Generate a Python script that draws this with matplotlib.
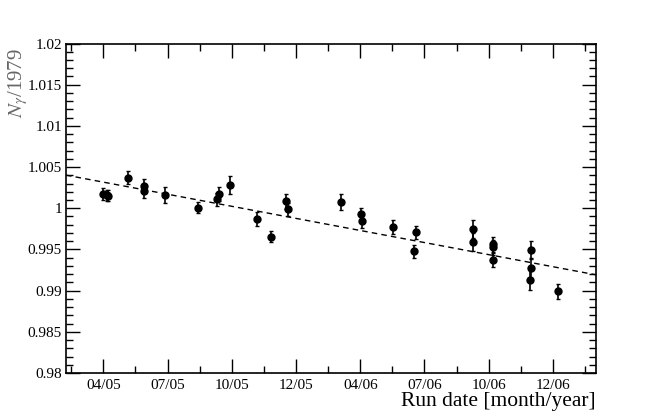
import numpy as np
import matplotlib
matplotlib.use("Agg")
import matplotlib.pyplot as plt
from matplotlib.ticker import MultipleLocator, FuncFormatter

plt.rcParams['font.family'] = ['Liberation Serif', 'DejaVu Serif']
plt.rcParams['mathtext.fontset'] = 'stix'

# tick labels (one per major tick, evenly spaced on the axis)
date_labels = ["04/05", "07/05", "10/05", "12/05", "04/06", "07/06", "10/06", "12/06"]

# run position in units of major ticks (0 = 04/05)
run_pos = [-0.01, 0.05, 0.08, 0.39, 0.64, 0.64, 0.96, 1.47, 1.77, 1.80, 1.97,
           2.39, 2.61, 2.84, 2.88, 3.70, 4.01, 4.03, 4.51, 4.83, 4.87,
           5.75, 5.75, 6.06, 6.07, 6.06, 6.66, 6.66, 6.65, 7.08]
ngamma = [1.0017, 1.00155, 1.00152, 1.00373, 1.0027, 1.0021, 1.00161, 1.00007, 1.00109, 1.00173, 1.00282,
          0.9987, 0.99655, 1.00084, 0.99987, 1.00076, 0.99927, 0.99842, 0.99772, 0.99478, 0.99708,
          0.99748, 0.99587, 0.99372, 0.99563, 0.99526, 0.99497, 0.99271, 0.99133, 0.98992]
ngamma_err = [0.0007, 0.0007, 0.0007, 0.0008, 0.0008, 0.0008, 0.001, 0.0007, 0.0008, 0.0009, 0.0011,
              0.0008, 0.0007, 0.0009, 0.0008, 0.001, 0.0007, 0.0008, 0.0009, 0.0008, 0.0008,
              0.0011, 0.0011, 0.0008, 0.0009, 0.0009, 0.0011, 0.0012, 0.0012, 0.0009]

# linear fit parameters (value at 04/05, slope per tick)
fit_p0 = 1.00317
fit_p1 = -0.001467

fig = plt.figure(figsize=(6.64, 4.16), dpi=100)
ax = fig.add_axes([0.0994, 0.1034, 0.7982, 0.792])

xmin, xmax = -0.581, 7.67
fx = np.array([xmin, xmax])
ax.plot(fx, fit_p0 + fit_p1*fx, color='black', linestyle=(0, (4, 3)), linewidth=1.0)

ax.errorbar(run_pos, ngamma, yerr=ngamma_err, fmt='o', color='black',
            markersize=5, elinewidth=1.2, capsize=1.5, capthick=1.0)

ax.set_xlim(xmin, xmax)
ax.set_ylim(0.98, 1.02)
ax.set_xticks(range(len(date_labels)))
ax.set_xticklabels(date_labels)
ax.xaxis.set_minor_locator(MultipleLocator(0.5))
ax.set_yticks(np.linspace(0.98, 1.02, 9))
ax.yaxis.set_major_formatter(FuncFormatter(lambda v, p: f"{v:.3f}".rstrip('0').rstrip('.')))
ax.yaxis.set_minor_locator(MultipleLocator(0.001))

ax.tick_params(which='both', direction='in', top=True, right=True, labelsize=11, width=1.0)
ax.tick_params(which='major', length=10)
ax.tick_params(which='minor', length=5)
ax.tick_params(axis='x', pad=4)
ax.tick_params(axis='y', pad=3)
for s in ax.spines.values():
    s.set_linewidth(1.2)

ax.set_xlabel("Run date [month/year]", fontsize=15.5, loc='right', labelpad=0)
fig.text(18/664, 1 - 48/416, r"$N_{\gamma}$/1979", fontsize=15, rotation=90,
         ha='center', va='top', color='#666666')

fig.savefig("out.png", dpi=100)
